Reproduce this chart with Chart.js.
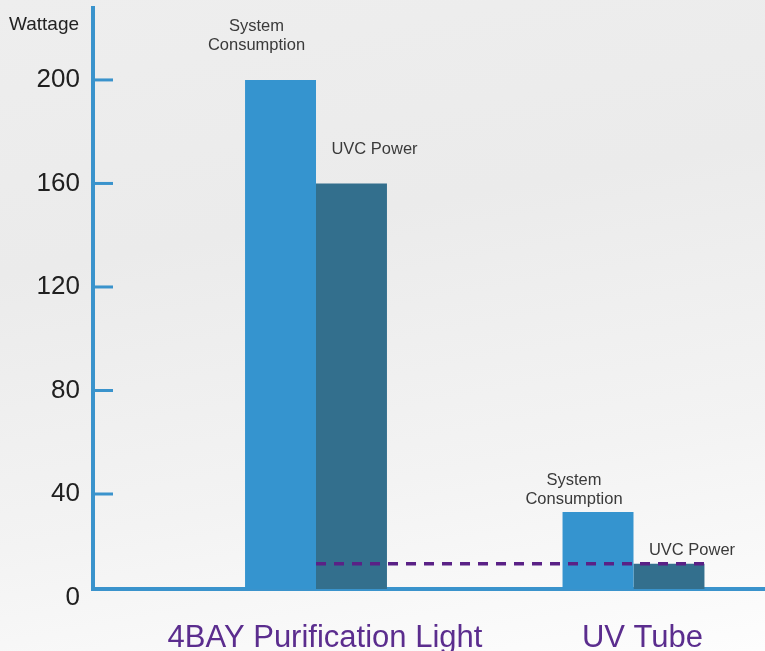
<!DOCTYPE html>
<html>
<head>
<meta charset="utf-8">
<script src="https://cdn.jsdelivr.net/npm/chart.js@4.4.1/dist/chart.umd.min.js"></script>
<style>
  html, body { margin: 0; padding: 0; }
  body {
    width: 765px; height: 651px; overflow: hidden;
    background: linear-gradient(170deg, #eeeeee 0%, #ebebeb 35%, #f3f3f3 70%, #fdfdfd 100%);
  }
  #wrap { position: relative; width: 765px; height: 651px; }
</style>
</head>
<body>
<div id="wrap"><canvas id="wattChart" width="765" height="651"></canvas></div>
<script>
// chart data
const categories = ['4BAY Purification Light', 'UV Tube'];
const systemConsumption = [200, 33];
const uvcPower = [160, 13];
const yTicks = [0, 40, 80, 120, 160, 200];
const seriesNames = ['System\nConsumption', 'UVC Power'];

// look
const FONT = '"Liberation Sans", Arial, Helvetica, sans-serif';
const axisBlue = '#3a93cc';
const labelLift = [34, 13]; // how far the bar captions sit above each group

// Captions, dashed reference line, inner tick marks and axis title
const annotate = {
  id: 'annotate',
  afterDatasetsDraw(chart) {
    const ctx = chart.ctx;
    const sysBars = chart.getDatasetMeta(0).data;
    const uvcBars = chart.getDatasetMeta(1).data;

    // dashed line at the UV tube UVC level
    const first = uvcBars[0];
    const last = uvcBars[uvcBars.length - 1];
    ctx.save();
    ctx.strokeStyle = '#5a2186';
    ctx.lineWidth = 3.5;
    ctx.setLineDash([10, 8]);
    ctx.beginPath();
    ctx.moveTo(first.x - first.width / 2, last.y);
    ctx.lineTo(last.x + last.width / 2, last.y);
    ctx.stroke();
    ctx.restore();

    // captions above the bars
    ctx.save();
    ctx.font = '16.5px ' + FONT;
    ctx.fillStyle = '#3a3a3a';
    ctx.textAlign = 'center';
    ctx.textBaseline = 'middle';
    sysBars.forEach((bar, i) => {
      const lines = seriesNames[0].split('\n');
      lines.forEach((line, j) => {
        ctx.fillText(line, bar.x - 24, bar.y - labelLift[i] - (lines.length - 1 - j) * 19);
      });
    });
    uvcBars.forEach((bar, i) => {
      ctx.fillText(seriesNames[1], bar.x + 23, bar.y - labelLift[i]);
    });
    ctx.restore();
  },
  afterDraw(chart) {
    const ctx = chart.ctx;
    const y = chart.scales.y;
    const left = chart.chartArea.left;

    ctx.save();
    ctx.strokeStyle = axisBlue;
    ctx.lineWidth = 3;
    yTicks.filter((v) => v > 0).forEach((v) => {
      const py = y.getPixelForValue(v);
      ctx.beginPath();
      ctx.moveTo(left, py);
      ctx.lineTo(left + 20, py);
      ctx.stroke();
    });

    ctx.font = '19px ' + FONT;
    ctx.fillStyle = '#222';
    ctx.textAlign = 'left';
    ctx.textBaseline = 'middle';
    ctx.fillText('Wattage', 9, 25);
    ctx.restore();
  },
};

const barChart = new Chart(document.getElementById('wattChart'), {
  type: 'bar',
  data: {
    datasets: [
      {
        label: 'System Consumption',
        data: systemConsumption.map((v, i) => ({ x: i + 1, y: v })),
        backgroundColor: '#3594cf',
        categoryPercentage: 0.447,
        barPercentage: 1,
      },
      {
        label: 'UVC Power',
        data: uvcPower.map((v, i) => ({ x: i + 1, y: v })),
        backgroundColor: '#336f8d',
        categoryPercentage: 0.447,
        barPercentage: 1,
      },
    ],
  },
  options: {
    responsive: false,
    animation: false,
    layout: { padding: { top: 8, left: 0, right: 0, bottom: 0 } },
    plugins: {
      legend: { display: false },
      tooltip: { enabled: false },
    },
    scales: {
      x: {
        type: 'linear',
        offset: false,
        min: 0.2976,
        max: 2.4142,
        grid: { display: false, drawTicks: false },
        border: { display: true, color: axisBlue, width: 4 },
        afterBuildTicks: (s) => {
          s.ticks = categories.map((c, i) => ({ value: i + 1 }));
        },
        afterFit: (s) => {
          s.height = 62;
          s.paddingLeft = 0;
          s.paddingRight = 0;
        },
        ticks: {
          autoSkip: false,
          maxRotation: 0,
          padding: 31,
          labelOffset: 9,
          color: '#5b2d8e',
          font: { family: FONT, size: 31 },
          callback: (v, i) => categories[i],
        },
      },
      y: {
        type: 'linear',
        min: 3.29,
        max: 227.8,
        grid: { display: false, drawTicks: false },
        border: { display: true, color: axisBlue, width: 4 },
        afterBuildTicks: (s) => {
          s.ticks = yTicks.map((v) => ({ value: v }));
        },
        afterFit: (s) => {
          s.width = 93;
          s.paddingTop = 0;
          s.paddingBottom = 0;
        },
        ticks: {
          padding: 13,
          color: '#202020',
          font: { family: FONT, size: 26 },
          callback: (v) => String(v),
        },
      },
    },
  },
  plugins: [annotate],
});
</script>
</body>
</html>
